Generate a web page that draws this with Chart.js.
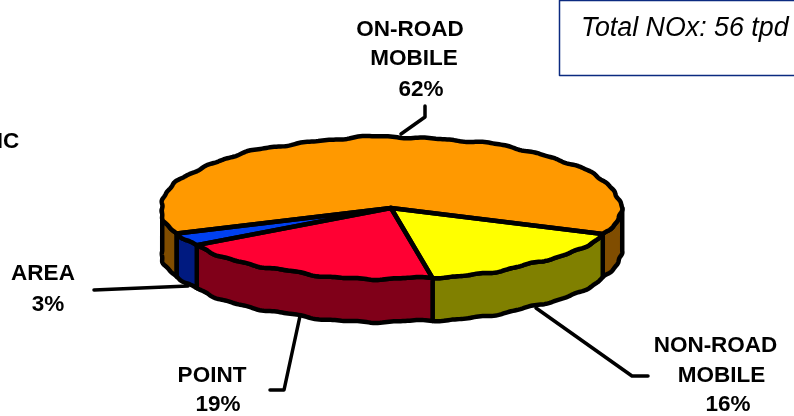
<!DOCTYPE html>
<html>
<head>
<meta charset="utf-8">
<script src="https://cdn.jsdelivr.net/npm/chart.js@4"></script>
<style>
  html, body { margin: 0; padding: 0; background: #fff; }
  canvas { display: block; }
</style>
</head>
<body>
<canvas id="chartNox" width="794" height="416"></canvas>
<script>
// DATA
const categories = ['ON-ROAD MOBILE', 'NON-ROAD MOBILE', 'POINT', 'AREA'];
const shares = [62, 16, 19, 3];
const topColors = ['#FF9900', '#FFFF00', '#FF0033', '#0040F0'];
const sideColors = ['#804D00', '#808000', '#800019', '#001A80'];

// look of the tilted pie
const radiusX = 230;
const squash = 71 / 230;
const depth = 43;
const startDeg = 158.8 + 90;

// callouts: text lines and leader lines, in page pixels
const callouts = [
  { lines: [['ON-ROAD', 410, 36], ['MOBILE', 414, 65], ['62%', 421, 96]],
    leader: [[401, 134], [425, 117], [425, 106]] },
  { lines: [['NON-ROAD', 715.5, 352], ['MOBILE', 721.5, 382], ['16%', 728, 411]],
    leader: [[536, 308], [632, 376], [648, 376]] },
  { lines: [['POINT', 212, 382], ['19%', 218, 411]],
    leader: [[300, 316], [284, 390], [270, 390]] },
  { lines: [['AREA', 43, 280], ['3%', 48, 311]],
    leader: [[188, 286], [94, 290]] },
  { lines: [['IC', 8, 148]], leader: [] }
];

// the original's outline is a bit rough
function rough(a) {
  return 0.7 * Math.sin(a * 11 + 1) + 0.7 * Math.sin(a * 23 + 2) + 0.4 * Math.sin(a * 47);
}
function rim(arc, a, dy) {
  const w = rough(a);
  return [
    arc.x + (arc.outerRadius + w) * Math.cos(a),
    arc.y + arc.outerRadius * squash * Math.sin(a) + w * Math.sin(a) + dy
  ];
}
function traceRim(ctx, arc, from, to, dy, backwards) {
  const steps = Math.max(2, Math.ceil((to - from) / 0.01));
  for (let i = 0; i <= steps; i++) {
    const t = backwards ? 1 - i / steps : i / steps;
    const p = rim(arc, from + (to - from) * t, dy);
    ctx.lineTo(p[0], p[1]);
  }
}
// parts of an arc that face the viewer (angle 0..PI, screen y is down)
function frontParts(arc) {
  const parts = [];
  [0, 2 * Math.PI].forEach(function (k) {
    const from = Math.max(arc.startAngle, k);
    const to = Math.min(arc.endAngle, k + Math.PI);
    if (to > from) parts.push([from, to]);
  });
  return parts;
}

const tiltPie = {
  id: 'tiltPie',
  beforeDatasetsDraw(chart) {
    const ctx = chart.ctx;
    const arcs = chart.getDatasetMeta(0).data;
    ctx.save();
    ctx.lineWidth = 4.5;
    ctx.lineJoin = 'round';
    ctx.strokeStyle = '#000';
    // side walls
    arcs.forEach(function (arc, i) {
      frontParts(arc).forEach(function (part) {
        ctx.beginPath();
        traceRim(ctx, arc, part[0], part[1], 0, false);
        traceRim(ctx, arc, part[0], part[1], depth, true);
        ctx.closePath();
        ctx.fillStyle = sideColors[i];
        ctx.fill();
        ctx.stroke();
      });
    });
    ctx.restore();
    // top face is drawn by the library, squashed
    const c = arcs[0];
    ctx.save();
    ctx.translate(c.x, c.y);
    ctx.scale(1, squash);
    ctx.translate(-c.x, -c.y);
  },
  afterDatasetsDraw(chart) {
    const ctx = chart.ctx;
    ctx.restore();
    const arcs = chart.getDatasetMeta(0).data;
    ctx.save();
    ctx.lineWidth = 4.5;
    ctx.lineJoin = 'round';
    ctx.strokeStyle = '#000';
    arcs.forEach(function (arc) {
      ctx.beginPath();
      ctx.moveTo(arc.x, arc.y);
      traceRim(ctx, arc, arc.startAngle, arc.endAngle, 0, false);
      ctx.closePath();
      ctx.stroke();
    });
    ctx.restore();
  },
  afterDraw(chart) {
    const ctx = chart.ctx;
    ctx.save();
    // leaders
    ctx.strokeStyle = '#000';
    ctx.lineWidth = 3.5;
    ctx.lineCap = 'round';
    ctx.lineJoin = 'round';
    callouts.forEach(function (c) {
      if (!c.leader.length) return;
      ctx.beginPath();
      c.leader.forEach(function (p, i) {
        if (i === 0) ctx.moveTo(p[0], p[1]);
        else ctx.lineTo(p[0], p[1]);
      });
      ctx.stroke();
    });
    // labels
    ctx.fillStyle = '#000';
    ctx.font = 'bold 22.5px "Liberation Sans", Arial, sans-serif';
    ctx.textAlign = 'center';
    ctx.textBaseline = 'alphabetic';
    callouts.forEach(function (c) {
      c.lines.forEach(function (l) {
        ctx.fillText(l[0], l[1], l[2]);
      });
    });
    // total box
    ctx.fillStyle = '#fff';
    ctx.strokeStyle = '#0B2A80';
    ctx.lineWidth = 1.5;
    ctx.beginPath();
    ctx.rect(559.5, 0.5, 240, 75);
    ctx.fill();
    ctx.stroke();
    ctx.fillStyle = '#000';
    ctx.font = 'italic 26.8px "Liberation Sans", Arial, sans-serif';
    ctx.textAlign = 'left';
    ctx.fillText('Total NOx: 56 tpd', 581, 36);
    ctx.restore();
  }
};

new Chart(document.getElementById('chartNox'), {
  type: 'pie',
  data: {
    labels: categories,
    datasets: [{
      data: shares,
      backgroundColor: topColors,
      borderWidth: 0,
      radius: radiusX,
      rotation: startDeg
    }]
  },
  options: {
    responsive: false,
    animation: false,
    layout: { padding: { right: 12 } },
    plugins: { legend: { display: false }, tooltip: { enabled: false } }
  },
  plugins: [tiltPie]
});
</script>
</body>
</html>
